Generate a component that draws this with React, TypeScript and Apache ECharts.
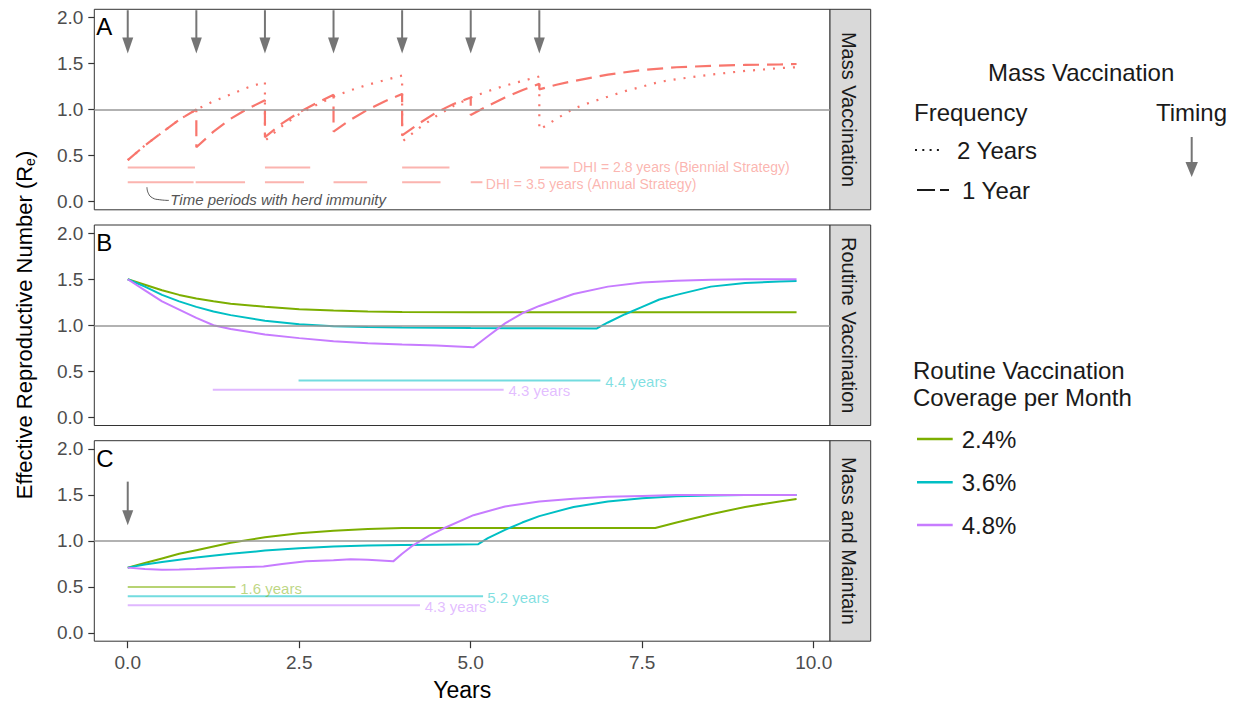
import React, { useEffect, useRef } from "react";
import * as echarts from "echarts";

const FONT = "'Liberation Sans', Arial, Helvetica, sans-serif";

// ---------- ticks & labels ----------
const xTicks = [0, 2.5, 5, 7.5, 10];
const yTicks = [0, 0.5, 1, 1.5, 2];
const threshold = [1];
const panelLetters = ["A", "B", "C"];
const stripLabels = ["Mass Vaccination", "Routine Vaccination", "Mass and Maintain"];
const coverageLabels = ["2.4%", "3.6%", "4.8%"];
const frequencyLabels = ["2 Years", "1 Year"];

// ---------- Panel A: mass vaccination ----------
const massBiennial: number[][] = [
  [0, 0.45], [0.25, 0.61], [0.5, 0.75], [0.75, 0.89], [1, 1.0], [1.25, 1.09], [1.5, 1.165], [1.75, 1.24], [2, 1.3],
  [2, 0.66], [2.25, 0.82], [2.5, 0.95], [2.75, 1.05], [3, 1.14], [3.25, 1.21], [3.5, 1.27], [3.75, 1.32], [4, 1.37],
  [4, 0.65], [4.25, 0.8], [4.5, 0.93], [4.75, 1.04], [5, 1.13], [5.25, 1.2], [5.5, 1.26], [5.75, 1.31], [6, 1.36],
  [6, 0.78], [6.25, 0.9], [6.5, 1.01], [6.75, 1.08], [7, 1.14], [7.25, 1.2], [7.5, 1.25], [7.75, 1.3], [8, 1.33],
  [8.5, 1.38], [9, 1.42], [9.5, 1.45], [9.75, 1.46],
];
const massAnnual: number[][] = [
  [0, 0.45], [0.25, 0.61], [0.5, 0.75], [0.75, 0.89], [1, 1.0],
  [1, 0.59], [1.25, 0.76], [1.5, 0.9], [1.75, 1.01], [2, 1.1],
  [2, 0.7], [2.25, 0.85], [2.5, 0.97], [2.75, 1.07], [3, 1.16],
  [3, 0.76], [3.25, 0.89], [3.5, 1.0], [3.75, 1.09], [4, 1.17],
  [4, 0.72], [4.25, 0.85], [4.5, 0.97], [4.75, 1.06], [5, 1.13],
  [5, 0.94], [5.25, 1.04], [5.5, 1.13], [5.75, 1.21], [6, 1.28],
  [6, 1.22], [6.25, 1.27], [6.5, 1.31], [7, 1.38], [7.5, 1.43], [8, 1.46], [8.5, 1.475], [9, 1.485], [9.5, 1.49], [9.75, 1.495],
];
// herd immunity periods: [start, end, level]
const massHerdBiennial: number[][] = [[0, 0.98, 0.37], [2.0, 2.66, 0.37], [4.0, 4.69, 0.37], [6.01, 6.43, 0.37]];
const massHerdAnnual: number[][] = [[0, 0.96, 0.21], [0.99, 1.71, 0.21], [2.0, 2.57, 0.21], [3.0, 3.49, 0.21], [4.0, 4.56, 0.21], [5.0, 5.17, 0.21]];
const massLabelText = ["DHI = 2.8 years (Biennial Strategy)", "DHI = 3.5 years (Annual Strategy)"];
const massLabelPos: number[][] = [[6.49, 0.37], [5.22, 0.195]];
const noteText = ["Time periods with herd immunity"];
const notePos: number[][] = [[0.62, 0.02]];
const noteConnector: number[][] = [[0.28, 0.156], [0.3, 0.09], [0.36, 0.04], [0.46, 0.02], [0.6, 0.012]];
// vaccination arrows: [year, top, tip]
const massArrows: number[][] = [[0, 2.08, 1.61], [1, 2.08, 1.61], [2, 2.08, 1.61], [3, 2.08, 1.61], [4, 2.08, 1.61], [5, 2.08, 1.61], [6, 2.08, 1.61]];

// ---------- Panel B: routine vaccination ----------
const routine24: number[][] = [
  [0, 1.5], [0.25, 1.44], [0.5, 1.38], [0.75, 1.33], [1, 1.29], [1.25, 1.26], [1.5, 1.235], [2, 1.2], [2.5, 1.175],
  [3, 1.16], [3.5, 1.15], [4, 1.145], [5, 1.14], [6, 1.14], [7, 1.14], [8, 1.14], [9, 1.14], [9.75, 1.14],
];
const routine36: number[][] = [
  [0, 1.5], [0.25, 1.42], [0.5, 1.33], [0.75, 1.26], [1, 1.2], [1.25, 1.15], [1.5, 1.11], [2, 1.05], [2.5, 1.01],
  [3, 0.99], [3.5, 0.98], [4, 0.975], [5, 0.97], [6, 0.967], [6.84, 0.965], [7, 1.03], [7.25, 1.12], [7.5, 1.2],
  [7.75, 1.28], [8, 1.33], [8.5, 1.42], [9, 1.46], [9.5, 1.475], [9.75, 1.48],
];
const routine48: number[][] = [
  [0, 1.5], [0.25, 1.38], [0.5, 1.26], [0.75, 1.17], [1, 1.08], [1.25, 1.0], [1.5, 0.96], [2, 0.9], [2.5, 0.86],
  [3, 0.825], [3.5, 0.805], [4, 0.79], [4.5, 0.78], [4.8, 0.77], [5.04, 0.76], [5.25, 0.88], [5.5, 1.02], [5.75, 1.13],
  [6, 1.21], [6.5, 1.34], [7, 1.42], [7.5, 1.465], [8, 1.485], [8.5, 1.495], [9, 1.5], [9.75, 1.5],
];
const routineHerd36: number[][] = [[2.49, 6.89, 0.4]];
const routineHerd48: number[][] = [[1.24, 5.48, 0.3]];
const routineLabelText = ["4.4 years", "4.3 years"];
const routineLabelPos: number[][] = [[6.96, 0.39], [5.55, 0.29]];

// ---------- Panel C: mass and maintain ----------
const maintain24: number[][] = [
  [0, 0.71], [0.25, 0.76], [0.5, 0.81], [0.75, 0.86], [1, 0.9], [1.5, 0.98], [2, 1.04], [2.5, 1.085], [3, 1.11],
  [3.5, 1.13], [4, 1.14], [5, 1.14], [6, 1.14], [7, 1.14], [7.69, 1.14], [8, 1.2], [8.5, 1.29], [9, 1.37], [9.5, 1.43], [9.75, 1.455],
];
const maintain36: number[][] = [
  [0, 0.71], [0.25, 0.745], [0.5, 0.77], [1, 0.82], [1.5, 0.86], [2, 0.895], [2.5, 0.92], [3, 0.94], [3.5, 0.95],
  [4, 0.955], [4.5, 0.96], [5.11, 0.965], [5.25, 1.03], [5.5, 1.12], [5.75, 1.2], [6, 1.27], [6.5, 1.37], [7, 1.43],
  [7.5, 1.465], [8, 1.485], [8.5, 1.495], [9, 1.5], [9.75, 1.5],
];
const maintain48: number[][] = [
  [0, 0.71], [0.25, 0.695], [0.5, 0.688], [0.75, 0.69], [1, 0.695], [1.5, 0.71], [1.98, 0.723], [2.25, 0.75],
  [2.6, 0.778], [3, 0.79], [3.25, 0.8], [3.5, 0.795], [3.87, 0.778], [4.0, 0.86], [4.16, 0.953], [4.4, 1.06],
  [4.6, 1.135], [5.04, 1.28], [5.5, 1.375], [6, 1.43], [6.5, 1.46], [7, 1.48], [7.5, 1.49], [8, 1.5], [9.75, 1.5],
];
const maintainHerd24: number[][] = [[0, 1.57, 0.5]];
const maintainHerd36: number[][] = [[0, 5.18, 0.4]];
const maintainHerd48: number[][] = [[0, 4.26, 0.3]];
const maintainLabelText = ["1.6 years", "5.2 years", "4.3 years"];
const maintainLabelPos: number[][] = [[1.64, 0.487], [5.24, 0.39], [4.33, 0.29]];
const maintainArrows: number[][] = [[0, 1.645, 1.17]];

// ---------- styles ----------
const RED = "#F8766D";
const GREEN = "#7CAE00";
const CYAN = "#00BFC4";
const PURPLE = "#C77CFF";
const ARROW = "#757575";
const FRAME = "#333333";

const LEFT = 94.3;
const WIDTH = 735.7;
const PANELS = [
  { top: 9.3, height: 200.5 },
  { top: 225, height: 200.5 },
  { top: 440.7, height: 200.5 },
];
const STRIP_W = 40.7;

function lineSeries(g: number, data: number[][], color: string, dash: any, width = 2.2, extra: any = {}) {
  return {
    type: "line",
    xAxisIndex: g,
    yAxisIndex: g,
    data,
    showSymbol: false,
    symbol: "none",
    silent: true,
    z: 4,
    lineStyle: { color, width, type: dash },
    ...extra,
  };
}

function segSeries(g: number, data: number[][], color: string, opacity = 0.55, width = 2) {
  return {
    type: "custom",
    xAxisIndex: g,
    yAxisIndex: g,
    data,
    silent: true,
    z: 3,
    renderItem: (_p: any, api: any) => {
      const y = api.value(2);
      const a = api.coord([api.value(0), y]);
      const b = api.coord([api.value(1), y]);
      return {
        type: "line",
        shape: { x1: a[0], y1: a[1], x2: b[0], y2: b[1] },
        style: { stroke: color, lineWidth: width, opacity },
      };
    },
  };
}

function textSeries(
  g: number,
  pos: number[][],
  texts: string[],
  colors: string[],
  opacity = 0.55,
  italic = false,
  size = 15
) {
  return {
    type: "custom",
    xAxisIndex: g,
    yAxisIndex: g,
    data: pos,
    silent: true,
    z: 5,
    renderItem: (p: any, api: any) => {
      const c = api.coord([api.value(0), api.value(1)]);
      return {
        type: "text",
        x: c[0],
        y: c[1],
        style: {
          text: texts[p.dataIndex],
          fill: colors[p.dataIndex],
          opacity,
          fontSize: size,
          lineHeight: 12,
          fontFamily: FONT,
          fontStyle: italic ? "italic" : "normal",
          textAlign: "left",
          align: "left",
          textVerticalAlign: "middle",
          verticalAlign: "middle",
        },
      };
    },
  };
}

function arrowSeries(g: number, data: number[][], headH: number, headW: number) {
  return {
    type: "custom",
    xAxisIndex: g,
    yAxisIndex: g,
    data,
    silent: true,
    z: 5,
    renderItem: (_p: any, api: any) => {
      const top = api.coord([api.value(0), api.value(1)]);
      const tip = api.coord([api.value(0), api.value(2)]);
      return {
        type: "group",
        children: [
          {
            type: "line",
            shape: { x1: top[0], y1: top[1], x2: tip[0], y2: tip[1] - headH + 2 },
            style: { stroke: ARROW, lineWidth: 2 },
          },
          {
            type: "polygon",
            shape: {
              points: [
                [tip[0] - headW / 2, tip[1] - headH],
                [tip[0] + headW / 2, tip[1] - headH],
                [tip[0], tip[1]],
              ],
            },
            style: { fill: ARROW },
          },
        ],
      };
    },
  };
}

function hline(g: number) {
  return {
    type: "line",
    xAxisIndex: g,
    yAxisIndex: g,
    data: [],
    silent: true,
    z: 2,
    markLine: {
      silent: true,
      symbol: "none",
      label: { show: false },
      lineStyle: { color: "#999999", width: 1.6, type: "solid" },
      data: threshold.map((v) => ({ yAxis: v })),
    },
  };
}

function buildOption() {
  const grid = PANELS.map((p) => ({
    left: LEFT,
    top: p.top,
    width: WIDTH,
    height: p.height,
    show: true,
    borderColor: FRAME,
    borderWidth: 1,
    backgroundColor: "#ffffff",
    containLabel: false,
  }));

  const xAxis = PANELS.map((_, i) => ({
    type: "value",
    gridIndex: i,
    min: -0.4875,
    max: 10.2375,
    splitLine: { show: false },
    axisLine: { show: false, onZero: false },
    axisTick:
      i === 2
        ? { show: true, customValues: xTicks, length: 7, lineStyle: { color: FRAME, width: 1.2 } }
        : { show: false },
    axisLabel:
      i === 2
        ? {
            show: true,
            customValues: xTicks,
            formatter: (v: number) => v.toFixed(1),
            fontSize: 19,
            fontFamily: FONT,
            color: "#4D4D4D",
            margin: 12,
          }
        : { show: false },
  }));

  const yAxis = PANELS.map((_, i) => ({
    type: "value",
    gridIndex: i,
    min: -0.09,
    max: 2.09,
    splitLine: { show: false },
    axisLine: { show: false, onZero: false },
    axisTick: { show: true, customValues: yTicks, length: 6, lineStyle: { color: FRAME, width: 1.2 } },
    axisLabel: {
      show: true,
      customValues: yTicks,
      formatter: (v: number) => v.toFixed(1),
      fontSize: 19,
      fontFamily: FONT,
      color: "#4D4D4D",
      margin: 11,
    },
  }));

  const series: any[] = [
    hline(0),
    hline(1),
    hline(2),
    // Panel A
    segSeries(0, massHerdBiennial, RED),
    segSeries(0, massHerdAnnual, RED),
    lineSeries(0, massAnnual, RED, [16, 8]),
    lineSeries(0, massBiennial, RED, [2, 8]),
    arrowSeries(0, massArrows, 16, 11),
    textSeries(0, massLabelPos, massLabelText, [RED, RED], 0.55, false, 14),
    textSeries(0, notePos, noteText, ["#555555"], 1, true),
    {
      type: "line",
      xAxisIndex: 0,
      yAxisIndex: 0,
      data: noteConnector,
      smooth: true,
      showSymbol: false,
      symbol: "none",
      silent: true,
      lineStyle: { color: "#555555", width: 1 },
    },
    // Panel B
    segSeries(1, routineHerd36, CYAN),
    segSeries(1, routineHerd48, PURPLE),
    textSeries(1, routineLabelPos, routineLabelText, [CYAN, PURPLE], 0.5),
    lineSeries(1, routine24, GREEN, "solid", 2),
    lineSeries(1, routine36, CYAN, "solid", 2),
    lineSeries(1, routine48, PURPLE, "solid", 2),
    // Panel C
    segSeries(2, maintainHerd24, GREEN),
    segSeries(2, maintainHerd36, CYAN),
    segSeries(2, maintainHerd48, PURPLE),
    textSeries(2, maintainLabelPos, maintainLabelText, [GREEN, CYAN, PURPLE], 0.5),
    arrowSeries(2, maintainArrows, 15, 11),
    lineSeries(2, maintain24, GREEN, "solid", 2),
    lineSeries(2, maintain36, CYAN, "solid", 2),
    lineSeries(2, maintain48, PURPLE, "solid", 2),
  ];

  const graphic: any[] = [];
  PANELS.forEach((p, i) => {
    // strip
    graphic.push({
      type: "rect",
      shape: { x: LEFT + WIDTH, y: p.top, width: STRIP_W, height: p.height },
      style: { fill: "#D9D9D9", stroke: FRAME, lineWidth: 1 },
      silent: true,
    });
    graphic.push({
      type: "text",
      x: LEFT + WIDTH + STRIP_W / 2 - 1.5,
      y: p.top + p.height / 2,
      rotation: -Math.PI / 2,
      silent: true,
      style: {
        text: stripLabels[i],
        fontSize: 20,
        fontFamily: FONT,
        fill: "#1A1A1A",
        textAlign: "center",
        align: "center",
        textVerticalAlign: "middle",
        verticalAlign: "middle",
      },
    });
    // panel letter
    graphic.push({
      type: "text",
      x: LEFT + 2,
      y: p.top + 17.3,
      z: 10,
      silent: true,
      style: {
        text: panelLetters[i],
        fontSize: 24,
        fontFamily: FONT,
        fill: "#000000",
        textAlign: "left",
        align: "left",
        textVerticalAlign: "middle",
        verticalAlign: "middle",
      },
    });
  });

  // axis titles
  graphic.push({
    type: "text",
    x: LEFT + WIDTH / 2,
    y: 689.5,
    silent: true,
    style: {
      text: "Years",
      fontSize: 23,
      lineHeight: 20,
      fontFamily: FONT,
      fill: "#000000",
      textAlign: "center",
      align: "center",
      textVerticalAlign: "middle",
      verticalAlign: "middle",
    },
  });
  graphic.push({
    type: "text",
    x: 24,
    y: 325,
    rotation: Math.PI / 2,
    silent: true,
    style: {
      text: "{n|Effective Reproductive Number (R}{s|e}{n|)}",
      rich: {
        n: { fontSize: 22, fontFamily: FONT, fill: "#000000", lineHeight: 26, verticalAlign: "middle" },
        s: { fontSize: 14, fontFamily: FONT, fill: "#000000", lineHeight: 14, verticalAlign: "bottom" },
      },
      fontSize: 22,
      fontFamily: FONT,
      fill: "#000000",
      textAlign: "center",
      align: "center",
      textVerticalAlign: "middle",
      verticalAlign: "middle",
    },
  });

  const legendText = (text: string, x: number, y: number, align = "left") => ({
    type: "text",
    x,
    y,
    silent: true,
    style: {
      text,
      fontSize: 24,
      fontFamily: FONT,
      fill: "#1A1A1A",
      textAlign: align,
      align,
      textVerticalAlign: "middle",
      verticalAlign: "middle",
    },
  });

  // Mass vaccination legend
  graphic.push(legendText("Mass Vaccination", 988, 72));
  graphic.push(legendText("Frequency", 914, 112));
  graphic.push(legendText("Timing", 1227, 112, "right"));
  graphic.push({
    type: "line",
    silent: true,
    shape: { x1: 915, y1: 150, x2: 941, y2: 150 },
    style: { stroke: "#1A1A1A", lineWidth: 2, lineDash: [2, 5.3] },
  });
  graphic.push(legendText(frequencyLabels[0], 957, 150));
  graphic.push({
    type: "line",
    silent: true,
    shape: { x1: 917, y1: 190, x2: 949, y2: 190 },
    style: { stroke: "#1A1A1A", lineWidth: 2, lineDash: [18, 5] },
  });
  graphic.push(legendText(frequencyLabels[1], 962, 190));
  graphic.push({
    type: "line",
    silent: true,
    shape: { x1: 1191.7, y1: 137, x2: 1191.7, y2: 164 },
    style: { stroke: ARROW, lineWidth: 2 },
  });
  graphic.push({
    type: "polygon",
    silent: true,
    shape: { points: [[1185.5, 162], [1197.9, 162], [1191.7, 177]] },
    style: { fill: ARROW },
  });

  // Routine vaccination legend
  graphic.push(legendText("Routine Vaccination", 913, 370));
  graphic.push(legendText("Coverage per Month", 913, 397));
  const legColors = [GREEN, CYAN, PURPLE];
  const legY = [439, 482.3, 525];
  coverageLabels.forEach((lab, i) => {
    graphic.push({
      type: "line",
      silent: true,
      shape: { x1: 917, y1: legY[i], x2: 952.7, y2: legY[i] },
      style: { stroke: legColors[i], lineWidth: 2.5 },
    });
    graphic.push(legendText(lab, 961.7, legY[i]));
  });

  return {
    animation: false,
    backgroundColor: "#ffffff",
    textStyle: { fontFamily: FONT },
    grid,
    xAxis,
    yAxis,
    series,
    graphic,
  };
}

export default function App() {
  const ref = useRef<HTMLDivElement>(null);
  useEffect(() => {
    if (!ref.current) return;
    const chart = echarts.init(ref.current, undefined, { renderer: "svg" });
    chart.setOption(buildOption() as any);
    return () => chart.dispose();
  }, []);
  return (
    <div
      ref={ref}
      style={{ position: "fixed", left: 0, top: 0, width: 1242, height: 702, background: "#fff" }}
    />
  );
}
